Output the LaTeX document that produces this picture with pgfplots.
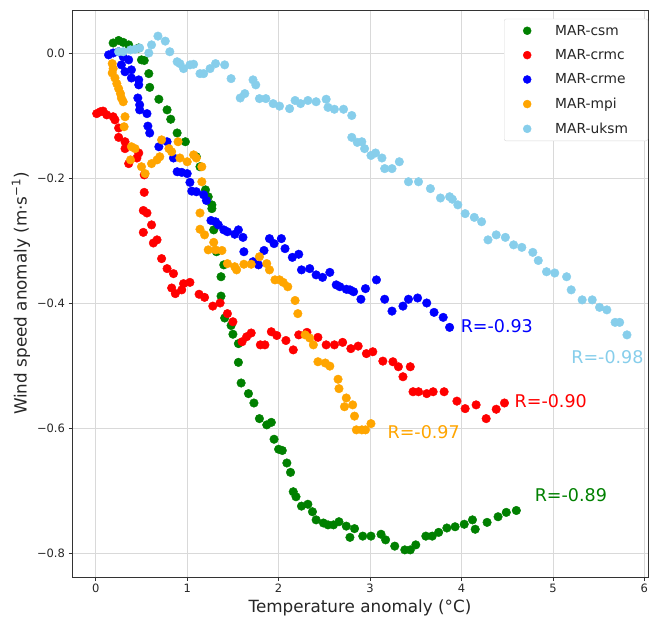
\documentclass[border=0pt]{standalone}
\usepackage{fontspec}
\setmainfont{DejaVu Sans}
\usepackage{pgfplots}
\pgfplotsset{compat=1.18}
\definecolor{mgreen}{HTML}{008000}
\definecolor{mred}{HTML}{FF0000}
\definecolor{mblue}{HTML}{0000FF}
\definecolor{morange}{HTML}{FFA500}
\definecolor{msky}{HTML}{87CEEB}
\begin{document}
\begin{tikzpicture}
\begin{axis}[
  scale only axis, width=576pt, height=567pt,
  xmin=-0.26, xmax=6.04, ymin=-0.8384, ymax=0.0688,
  xtick={0,1,2,3,4,5,6}, xticklabels={0,1,2,3,4,5,6},
  ytick={-0.8,-0.6,-0.4,-0.2,0}, yticklabels={−0.8,−0.6,−0.4,−0.2,0.0},
  tick pos=left, tick align=outside, major tick length=3.5pt,
  every tick/.style={black!80, line width=0.8pt},
  axis line style={black!80, line width=0.8pt},
  grid=major, grid style={gray!30, line width=0.8pt},
  ticklabel style={font=\fontsize{11.5}{13}\selectfont, text=black!85},
  /pgf/number format/assume math mode=true,
  xlabel={Temperature anomaly (°C)},
  ylabel={Wind speed anomaly (m·s\textsuperscript{−1})},
  label style={font=\fontsize{16.8}{19}\selectfont, text=black!85},
  legend style={at={(rel axis cs:0.7500,0.9845)}, anchor=north west, draw=black!15, rounded corners=2pt,
    font=\fontsize{13.8}{16}\selectfont, text=black!85, row sep=8.8pt, inner sep=4pt},
  legend cell align=left,
  legend image code/.code={\path[draw=none, fill=none] (0pt,0pt) rectangle (45pt,0pt); \draw[#1, mark size=4pt] plot coordinates {(19pt,0pt)};},
  every axis plot/.append style={only marks, mark=*, mark size=4.3pt},
]
\addplot[mgreen, mark options={draw=mgreen, fill=mgreen}] table {
0.19 0.016
0.25 0.020
0.30 0.017
0.36 0.013
0.47 0.008
0.50 -0.011
0.53 -0.012
0.58 -0.033
0.59 -0.055
0.69 -0.074
0.78 -0.091
0.82 -0.106
0.89 -0.128
0.98 -0.142
1.10 -0.166
1.14 -0.182
1.20 -0.219
1.23 -0.230
1.27 -0.243
1.27 -0.249
1.29 -0.283
1.32 -0.318
1.40 -0.339
1.37 -0.358
1.37 -0.389
1.41 -0.424
1.48 -0.436
1.50 -0.450
1.56 -0.465
1.56 -0.495
1.59 -0.528
1.67 -0.545
1.73 -0.560
1.79 -0.585
1.87 -0.595
1.92 -0.591
1.95 -0.618
2.00 -0.634
2.04 -0.636
2.09 -0.656
2.13 -0.671
2.16 -0.702
2.19 -0.710
2.25 -0.725
2.32 -0.722
2.37 -0.734
2.41 -0.747
2.49 -0.752
2.54 -0.755
2.60 -0.755
2.66 -0.750
2.74 -0.757
2.78 -0.775
2.83 -0.761
2.92 -0.773
3.01 -0.773
3.12 -0.770
3.17 -0.779
3.27 -0.789
3.38 -0.795
3.44 -0.795
3.50 -0.787
3.61 -0.773
3.68 -0.773
3.75 -0.767
3.84 -0.760
3.93 -0.758
4.03 -0.754
4.12 -0.747
4.15 -0.762
4.28 -0.751
4.40 -0.742
4.49 -0.735
4.60 -0.732
};
\addlegendentry{MAR-csm\hspace{14pt}\mbox{}}
\addplot[mred, mark options={draw=mred, fill=mred}] table {
0.01 -0.097
0.05 -0.094
0.08 -0.093
0.12 -0.099
0.19 -0.102
0.21 -0.107
0.25 -0.120
0.25 -0.135
0.32 -0.142
0.32 -0.153
0.36 -0.177
0.45 -0.168
0.47 -0.160
0.53 -0.195
0.53 -0.223
0.52 -0.252
0.56 -0.256
0.61 -0.275
0.52 -0.287
0.63 -0.304
0.67 -0.299
0.72 -0.329
0.78 -0.345
0.85 -0.353
0.83 -0.376
0.87 -0.385
0.94 -0.379
0.96 -0.369
1.03 -0.367
1.13 -0.386
1.19 -0.391
1.28 -0.405
1.36 -0.400
1.44 -0.417
1.50 -0.430
1.60 -0.462
1.65 -0.454
1.70 -0.448
1.80 -0.467
1.85 -0.467
1.92 -0.446
1.98 -0.452
2.08 -0.460
2.16 -0.475
2.22 -0.451
2.31 -0.447
2.43 -0.455
2.52 -0.467
2.61 -0.467
2.70 -0.463
2.79 -0.473
2.87 -0.469
2.96 -0.481
3.03 -0.478
3.14 -0.493
3.25 -0.494
3.31 -0.502
3.36 -0.518
3.44 -0.502
3.47 -0.542
3.53 -0.542
3.62 -0.545
3.69 -0.542
3.81 -0.542
3.95 -0.557
4.04 -0.569
4.16 -0.563
4.27 -0.585
4.38 -0.570
4.47 -0.560
};
\addlegendentry{MAR-crmc\hspace{14pt}\mbox{}}
\addplot[mblue, mark options={draw=mblue, fill=mblue}] table {
0.14 -0.003
0.19 0.000
0.25 0.002
0.30 -0.006
0.36 -0.011
0.28 -0.019
0.32 -0.030
0.39 -0.027
0.39 -0.040
0.47 -0.043
0.47 -0.051
0.46 -0.072
0.48 -0.083
0.48 -0.091
0.56 -0.097
0.57 -0.117
0.59 -0.128
0.69 -0.150
0.78 -0.142
0.85 -0.168
0.89 -0.190
0.94 -0.191
1.00 -0.193
1.03 -0.207
1.05 -0.221
1.10 -0.222
1.18 -0.227
1.21 -0.236
1.26 -0.268
1.31 -0.270
1.34 -0.275
1.40 -0.283
1.44 -0.286
1.52 -0.290
1.56 -0.283
1.61 -0.295
1.62 -0.318
1.72 -0.334
1.78 -0.339
1.84 -0.316
1.90 -0.297
1.95 -0.305
2.03 -0.297
2.07 -0.313
2.15 -0.327
2.22 -0.322
2.25 -0.347
2.34 -0.345
2.41 -0.355
2.48 -0.359
2.56 -0.351
2.63 -0.371
2.67 -0.374
2.74 -0.378
2.78 -0.379
2.82 -0.382
2.90 -0.394
2.95 -0.377
3.07 -0.363
3.16 -0.394
3.24 -0.413
3.36 -0.405
3.42 -0.394
3.52 -0.392
3.62 -0.400
3.70 -0.415
3.80 -0.423
3.87 -0.439
};
\addlegendentry{MAR-crme\hspace{14pt}\mbox{}}
\addplot[morange, mark options={draw=morange, fill=morange}] table {
0.18 -0.017
0.19 -0.025
0.18 -0.032
0.21 -0.040
0.23 -0.049
0.25 -0.057
0.27 -0.065
0.28 -0.072
0.30 -0.078
0.32 -0.102
0.31 -0.118
0.39 -0.150
0.43 -0.153
0.38 -0.171
0.50 -0.182
0.54 -0.193
0.61 -0.177
0.67 -0.171
0.70 -0.166
0.72 -0.139
0.80 -0.153
0.83 -0.158
0.90 -0.142
0.92 -0.168
1.00 -0.174
1.07 -0.163
1.10 -0.168
1.16 -0.182
1.16 -0.206
1.14 -0.256
1.14 -0.282
1.19 -0.291
1.29 -0.303
1.23 -0.315
1.31 -0.315
1.38 -0.316
1.44 -0.337
1.52 -0.342
1.54 -0.347
1.62 -0.338
1.70 -0.338
1.79 -0.326
1.87 -0.337
1.90 -0.347
1.96 -0.363
2.01 -0.363
2.05 -0.367
2.10 -0.374
2.18 -0.396
2.21 -0.417
2.29 -0.451
2.34 -0.456
2.38 -0.467
2.43 -0.494
2.51 -0.496
2.56 -0.501
2.65 -0.522
2.66 -0.537
2.74 -0.552
2.72 -0.566
2.81 -0.563
2.83 -0.581
2.85 -0.603
2.91 -0.603
2.95 -0.603
3.01 -0.593
};
\addlegendentry{MAR-mpi\hspace{14pt}\mbox{}}
\addplot[msky, mark options={draw=msky, fill=msky}] table {
0.25 0.002
0.30 0.002
0.38 0.005
0.43 0.006
0.48 0.008
0.58 0.000
0.61 0.013
0.68 0.027
0.76 0.019
0.81 0.002
0.89 -0.014
0.92 -0.017
0.96 -0.025
1.03 -0.019
1.07 -0.018
1.14 -0.033
1.18 -0.033
1.25 -0.025
1.31 -0.017
1.41 -0.019
1.48 -0.041
1.58 -0.072
1.63 -0.065
1.72 -0.043
1.75 -0.051
1.79 -0.073
1.86 -0.073
1.94 -0.081
2.01 -0.085
2.12 -0.089
2.18 -0.076
2.24 -0.081
2.32 -0.076
2.41 -0.078
2.52 -0.074
2.54 -0.087
2.61 -0.090
2.71 -0.090
2.80 -0.100
2.80 -0.135
2.86 -0.143
2.91 -0.142
2.94 -0.153
3.01 -0.164
3.06 -0.160
3.13 -0.168
3.16 -0.185
3.24 -0.185
3.32 -0.174
3.42 -0.206
3.53 -0.206
3.66 -0.217
3.77 -0.232
3.87 -0.230
3.90 -0.234
3.96 -0.243
4.04 -0.257
4.14 -0.263
4.22 -0.270
4.29 -0.299
4.38 -0.291
4.48 -0.295
4.57 -0.307
4.66 -0.311
4.78 -0.319
4.84 -0.332
4.93 -0.350
5.02 -0.352
5.15 -0.358
5.20 -0.379
5.32 -0.395
5.43 -0.395
5.51 -0.407
5.59 -0.411
5.68 -0.431
5.73 -0.431
5.81 -0.451
};
\addlegendentry{MAR-uksm\hspace{14pt}\mbox{}}
\begin{scope}[every node/.style={anchor=west, inner sep=0pt, font=\fontsize{17.5}{20}\selectfont}]
\node[text=mblue] at (axis cs:3.99,-0.437) {R=-0.93};
\node[text=msky] at (axis cs:5.20,-0.486) {R=-0.98};
\node[text=mred] at (axis cs:4.58,-0.557) {R=-0.90};
\node[text=morange] at (axis cs:3.19,-0.606) {R=-0.97};
\node[text=mgreen] at (axis cs:4.80,-0.707) {R=-0.89};
\end{scope}
\end{axis}
\pgfresetboundingbox
\path[use as bounding box] ([xshift=-72pt,yshift=-41pt]current axis.south west) rectangle ([xshift=2pt,yshift=10pt]current axis.north east);
\end{tikzpicture}
\end{document}
